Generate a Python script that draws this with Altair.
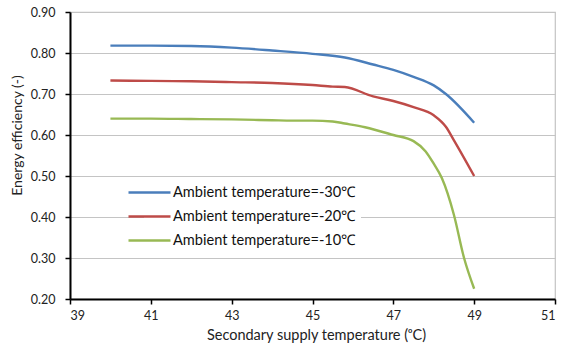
import altair as alt
import pandas as pd

# Secondary supply temperature (°C) and energy efficiency per ambient temperature
x_cold = [40, 41, 42, 43, 44, 45, 45.8, 46.5, 47, 47.5, 48, 48.3, 49]
eff_cold = [0.818, 0.818, 0.817, 0.813, 0.806, 0.798, 0.789, 0.772, 0.759, 0.742, 0.721, 0.700, 0.630]

x_mid = [40, 41, 42, 43, 44, 45, 45.5, 45.8, 46.5, 47, 47.5, 48, 48.3, 48.5, 49]
eff_mid = [0.733, 0.732, 0.731, 0.729, 0.727, 0.722, 0.718, 0.717, 0.694, 0.683, 0.668, 0.648, 0.620, 0.587, 0.500]

x_warm = [40, 41, 42, 43, 44, 44.5, 45, 45.5, 45.8, 46.3, 47, 47.5, 47.8, 48, 48.2, 48.5, 48.75, 49]
eff_warm = [0.640, 0.640, 0.639, 0.638, 0.636, 0.635, 0.635, 0.633, 0.628, 0.619, 0.600, 0.585, 0.560, 0.530, 0.495, 0.405, 0.300, 0.225]

series = ["Ambient temperature=-30℃", "Ambient temperature=-20℃", "Ambient temperature=-10℃"]
colors = ["#4a7ebb", "#be4b48", "#98b954"]

x_ticks = [39, 41, 43, 45, 47, 49, 51]
y_ticks = [0.2, 0.3, 0.4, 0.5, 0.6, 0.7, 0.8, 0.9]

rows = []
for name, xs, ys in zip(series, [x_cold, x_mid, x_warm], [eff_cold, eff_mid, eff_warm]):
    for i, (xv, yv) in enumerate(zip(xs, ys)):
        rows.append({"series": name, "t": xv, "eff": yv, "order": i})
df = pd.DataFrame(rows)

FONT = "Lato"

chart = (
    alt.Chart(df)
    .mark_line(interpolate="monotone", strokeWidth=2.4)
    .encode(
        x=alt.X(
            "t:Q",
            scale=alt.Scale(domain=[39, 51], nice=False, zero=False),
            axis=alt.Axis(
                values=x_ticks,
                format="d",
                title="Secondary supply temperature (ᵒC)",
                grid=False,
                domainColor="black",
                domainWidth=2,
                tickColor="black",
                tickWidth=1.5,
                tickSize=5,
                labelPadding=5,
                labelFontSize=12.5,
                labelColor="#222222",
                labelFont=FONT,
                titleFont=FONT,
                titleFontSize=14.5,
                titleFontWeight="normal",
                titleColor="#222222",
                titleX=246,
                titleY=36,
                titleBaseline="middle",
                titleAlign="center",
            ),
        ),
        y=alt.Y(
            "eff:Q",
            scale=alt.Scale(domain=[0.2, 0.9], nice=False, zero=False),
            axis=alt.Axis(
                values=y_ticks,
                format=".2f",
                title="Energy efficiency (-)",
                gridColor="#c4c4c4",
                gridWidth=1.2,
                domainColor="black",
                domainWidth=2,
                tickColor="black",
                tickWidth=1.5,
                tickSize=5,
                labelPadding=10,
                labelFontSize=12.5,
                labelColor="#222222",
                labelFont=FONT,
                titleFont=FONT,
                titleFontSize=14,
                titleFontWeight="normal",
                titleColor="#222222",
                titleAngle=270,
                titleX=-53,
                titleY=123,
                titleBaseline="middle",
                titleAlign="center",
            ),
        ),
        color=alt.Color(
            "series:N",
            sort=series,
            scale=alt.Scale(domain=series, range=colors),
            legend=alt.Legend(
                title=None,
                orient="none",
                legendX=74,
                legendY=165,
                fillColor="white",
                padding=4,
                # long stroke that reaches left past its 20px slot
                symbolType="M-3.1,0H1.1",
                symbolStrokeWidth=2.4,
                symbolSize=400,
                rowPadding=5,
                labelFont=FONT,
                labelFontSize=14.6,
                labelLimit=0,
                labelColor="#111111",
                labelOffset=2,
            ),
        ),
        order="order:Q",
    )
    .properties(width=485, height=287, padding={"left": 70, "top": 12, "right": 8, "bottom": 52})
    .configure(autosize=alt.AutoSizeParams(type="none"), background="white")
    .configure_view(stroke="#c4c4c4", strokeWidth=1.2)
)

chart.save("out.html", embed_options={"renderer": "svg", "actions": False})
